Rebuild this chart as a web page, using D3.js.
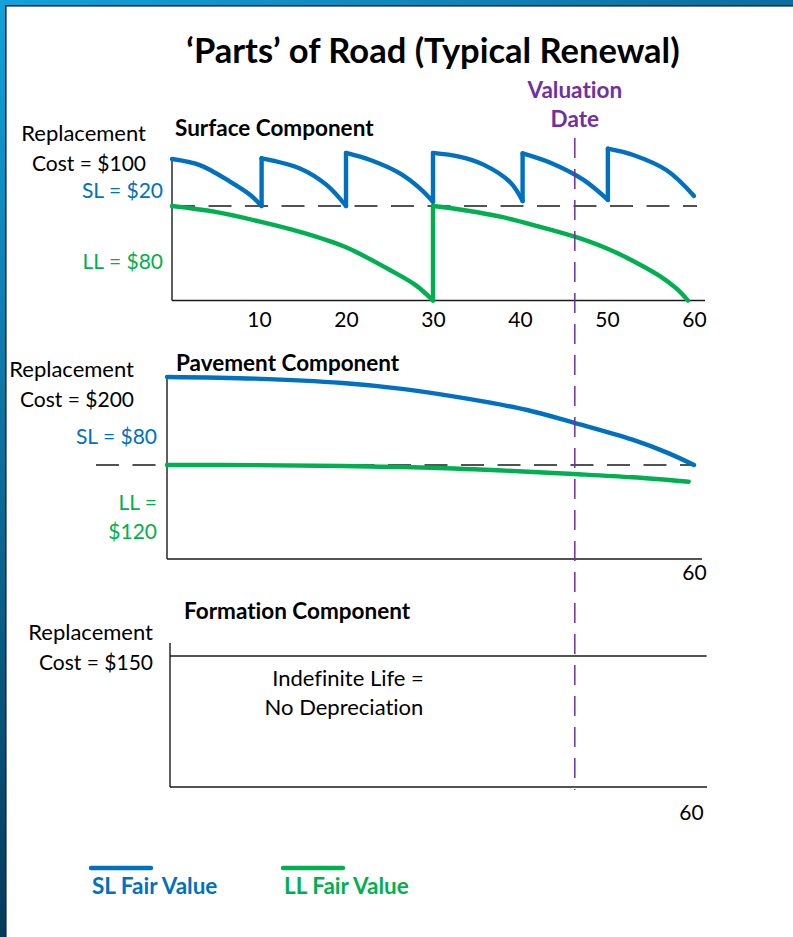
<!DOCTYPE html>
<html>
<head>
<meta charset="utf-8">
<script src="https://cdn.jsdelivr.net/npm/d3@7/dist/d3.min.js"></script>
<style>
  html, body { margin: 0; padding: 0; background: #fff; }
  svg { display: block; font-family: Lato, "Noto Sans", sans-serif; }
  svg text { font-variant-ligatures: none; font-feature-settings: "liga" 0, "clig" 0; }
</style>
</head>
<body>
<svg id="chart" width="793" height="937"></svg>
<script>
// ---- Surface component (replacement cost $100, SL $20, LL $80) ----
const surfaceTicks = [10, 20, 30, 40, 50, 60];
// short-life part: one saw tooth per 10-year resurfacing
const surfaceSL1 = [[0, 100], [3.2, 97.4], [6.7, 90.3], [9.0, 84.7], [10.3, 80]];
const surfaceSL2 = [[10.3, 100.3], [14.7, 96.0], [17.8, 88.9], [20.0, 80]];
const surfaceSL3 = [[20.0, 102.6], [22.8, 99.6], [26.2, 93.9], [28.5, 87.5], [30.0, 81.8]];
const surfaceSL4 = [[30.0, 102.6], [33.0, 101.0], [35.8, 97.6], [38.9, 90.0], [40.3, 82.1]];
const surfaceSL5 = [[40.3, 102.4], [43.5, 98.4], [47.3, 91.1], [50.1, 82.6]];
const surfaceSL6 = [[50.1, 104.4], [53.1, 101.6], [56.9, 95.1], [60.0, 84.3]];
// long-life part: renewed once at year 30
const surfaceLL1 = [[0, 80], [5, 75], [10, 67], [15, 57.5], [20, 45], [25, 26], [28, 13], [30.0, 0]];
const surfaceLL2 = [[30.0, 80], [34, 76], [38, 70.5], [42, 63], [46.3, 54], [50, 44], [53, 33.5], [56, 21], [58, 10], [59.3, 0]];
const surfaceLLLevel = 80;

// ---- Pavement component (replacement cost $200, SL $80, LL $120) ----
const pavementTicks = [60];
const pavementSL = [[0, 200], [10, 198.5], [20, 194.5], [27, 189], [34, 180.5],
                    [41, 170], [46.3, 158.5], [53, 143], [57, 131], [60.0, 120]];
const pavementLL = [[0, 120], [10, 119.8], [20, 118.8], [30, 116.5], [40, 112],
                    [46.3, 108.5], [53, 104.3], [59.4, 98.7]];
const pavementLLLevel = 120;

// ---- Formation component (replacement cost $150, indefinite life) ----
const formationTicks = [60];
const formationValue = [[0, 150], [61.8, 150]];

const valuationYear = 46.3;

const BLUE = "#0070C0", GREEN = "#00B050", PURPLE = "#7030A0", INK = "#1a1a1a";

const svg = d3.select("#chart");

// ---- slide frame ----
const defs = svg.append("defs");
const gTop = defs.append("linearGradient").attr("id", "gTop").attr("x1", 0).attr("x2", 1).attr("y1", 0).attr("y2", 0);
gTop.append("stop").attr("offset", 0).attr("stop-color", "#12a2dc");
gTop.append("stop").attr("offset", 1).attr("stop-color", "#0b6e9c");
const gLeft = defs.append("linearGradient").attr("id", "gLeft").attr("x1", 0).attr("x2", 0).attr("y1", 0).attr("y2", 1);
gLeft.append("stop").attr("offset", 0).attr("stop-color", "#12a2dc");
gLeft.append("stop").attr("offset", 1).attr("stop-color", "#063a5a");
svg.append("rect").attr("x", 0).attr("y", 0).attr("width", 793).attr("height", 5).attr("fill", "url(#gTop)");
svg.append("rect").attr("x", 0).attr("y", 0).attr("width", 5).attr("height", 937).attr("fill", "url(#gLeft)");
svg.append("rect").attr("x", 5).attr("y", 5).attr("width", 788).attr("height", 1.6).attr("fill", "#1d2a36");
svg.append("rect").attr("x", 5).attr("y", 5).attr("width", 1.6).attr("height", 932).attr("fill", "#1d2a36");

// ---- title ----
svg.append("text").attr("x", 433).attr("y", 63).attr("text-anchor", "middle")
  .attr("font-size", 34.5).attr("font-weight", 700).attr("fill", "#000")
  .text("\u2018Parts\u2019 of Road (Typical Renewal)");

function label(x, y, txt, opts = {}) {
  return svg.append("text").attr("x", x).attr("y", y)
    .attr("text-anchor", opts.anchor || "end")
    .attr("font-size", opts.size || 21)
    .attr("font-weight", opts.weight || 400)
    .attr("fill", opts.color || "#000")
    .text(txt);
}

function strokeSeg(data, x, y, color, width) {
  const line = d3.line().x(d => x(d[0])).y(d => y(d[1])).curve(d3.curveCatmullRom.alpha(0.5));
  svg.append("path").attr("d", line(data)).attr("fill", "none")
    .attr("stroke", color).attr("stroke-width", width)
    .attr("stroke-linecap", "round").attr("stroke-linejoin", "round");
}

function jump(a, b, x, y, color, width) {
  svg.append("line").attr("x1", x(a[0])).attr("y1", y(a[1])).attr("x2", x(b[0])).attr("y2", y(b[1]))
    .attr("stroke", color).attr("stroke-width", width).attr("stroke-linecap", "round");
}

function axesFrame(x, y, yTop, xEnd, ticks, tickY) {
  const y0 = y(0);
  svg.append("line").attr("x1", x(0)).attr("x2", x(0)).attr("y1", yTop).attr("y2", y0)
    .attr("stroke", INK).attr("stroke-width", 1.4);
  svg.append("line").attr("x1", x(0)).attr("x2", xEnd).attr("y1", y0).attr("y2", y0)
    .attr("stroke", INK).attr("stroke-width", 1.4);
  const axis = d3.axisBottom(x).tickValues(ticks).tickSize(0).tickPadding(0).tickFormat(d3.format("d"));
  const g = svg.append("g").attr("transform", `translate(0,${tickY})`).call(axis);
  g.select(".domain").remove();
  g.selectAll("text").attr("font-size", 21).attr("fill", "#000").attr("font-family", "Lato, 'Noto Sans', sans-serif")
    .attr("dy", 0);
}

const BOLD = 22.5, TEXT = 22;

// ===== Surface =====
const xS = d3.scaleLinear().domain([0, 60]).range([172, 694]);
const yS = d3.scaleLinear().domain([0, 80, 100]).range([300.5, 206, 159]);

label(146, 141, "Replacement", { size: TEXT });
label(146, 171, "Cost = $100");
label(163, 198, "SL = $20", { color: BLUE });
label(163, 269, "LL = $80", { color: GREEN });
label(175, 136, "Surface Component", { anchor: "start", weight: 700, size: BOLD });

axesFrame(xS, yS, 158, 705, surfaceTicks, 327);

svg.append("line").attr("x1", xS(0)).attr("x2", 697).attr("y1", yS(surfaceLLLevel)).attr("y2", yS(surfaceLLLevel))
  .attr("stroke", INK).attr("stroke-width", 1.4).attr("stroke-dasharray", "23 13.5");

const teeth = [surfaceSL1, surfaceSL2, surfaceSL3, surfaceSL4, surfaceSL5, surfaceSL6];
teeth.forEach((t, i) => {
  strokeSeg(t, xS, yS, BLUE, 4.4);
  if (i < teeth.length - 1) jump(t[t.length - 1], teeth[i + 1][0], xS, yS, BLUE, 4.4);
});
strokeSeg(surfaceLL1, xS, yS, GREEN, 4.4);
jump(surfaceLL1[surfaceLL1.length - 1], surfaceLL2[0], xS, yS, GREEN, 4.4);
strokeSeg(surfaceLL2, xS, yS, GREEN, 4.4);

// ===== Pavement =====
const xP = d3.scaleLinear().domain([0, 60]).range([167, 694]);
const yP = d3.scaleLinear().domain([0, 120, 200]).range([559, 465, 377]);

label(134, 377, "Replacement", { size: TEXT });
label(134, 407, "Cost = $200");
label(157, 444, "SL = $80", { color: BLUE });
label(157, 510, "LL =", { color: GREEN });
label(157, 539, "$120", { color: GREEN });
label(176, 371, "Pavement Component", { anchor: "start", weight: 700, size: BOLD });

axesFrame(xP, yP, 377, 702, pavementTicks, 580);

svg.append("line").attr("x1", 96).attr("x2", 696).attr("y1", yP(pavementLLLevel)).attr("y2", yP(pavementLLLevel))
  .attr("stroke", INK).attr("stroke-width", 1.4).attr("stroke-dasharray", "23 13.5");
strokeSeg(pavementLL, xP, yP, GREEN, 4.4);
strokeSeg(pavementSL, xP, yP, BLUE, 4.4);

// ===== Formation =====
const xF = d3.scaleLinear().domain([0, 60]).range([170, 691]);
const yF = d3.scaleLinear().domain([0, 150]).range([787, 656]);

label(153, 640, "Replacement", { size: TEXT });
label(153, 670, "Cost = $150");
label(184, 619, "Formation Component", { anchor: "start", weight: 700, size: BOLD });
label(348, 686, "Indefinite Life =", { anchor: "middle", size: TEXT });
label(344, 715, "No Depreciation", { anchor: "middle", size: TEXT });

axesFrame(xF, yF, 643, 707, formationTicks, 820);
svg.append("path").attr("d", d3.line().x(d => xF(d[0])).y(d => yF(d[1]))(formationValue))
  .attr("fill", "none").attr("stroke", INK).attr("stroke-width", 1.4);

// ===== Valuation date marker =====
const vx = xS(valuationYear);
label(vx, 98, "Valuation", { anchor: "middle", weight: 700, size: BOLD, color: PURPLE });
label(vx, 127, "Date", { anchor: "middle", weight: 700, size: BOLD, color: PURPLE });
svg.append("line").attr("x1", vx).attr("x2", vx).attr("y1", 138).attr("y2", 790)
  .attr("stroke", PURPLE).attr("stroke-width", 1.5).attr("stroke-dasharray", "20 11");

// ===== Legend =====
const legend = [
  { name: "SL Fair Value", color: BLUE, x: 91 },
  { name: "LL Fair Value", color: GREEN, x: 283 }
];
legend.forEach(l => {
  svg.append("line").attr("x1", l.x).attr("x2", l.x + 60).attr("y1", 868).attr("y2", 868)
    .attr("stroke", l.color).attr("stroke-width", 4.4).attr("stroke-linecap", "round");
  label(l.x + 1, 894, l.name, { anchor: "start", weight: 700, size: BOLD, color: l.color });
});
</script>
</body>
</html>
